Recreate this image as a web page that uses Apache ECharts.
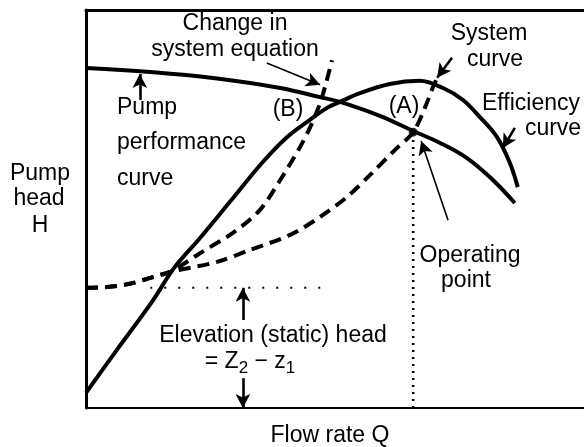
<!DOCTYPE html>
<html>
<head>
<meta charset="utf-8">
<script src="https://cdn.jsdelivr.net/npm/echarts@6/dist/echarts.min.js"></script>
<style>
  html, body { margin: 0; padding: 0; background: #fff; }
  #chart { width: 584px; height: 447px; }
</style>
</head>
<body>
<div id="chart"></div>
<script>
// Flow rate Q (0-100) against pump head H (0-100), arbitrary units.
const pumpCurve = [
  [0, 85.4], [12.9, 84.4], [25.5, 82.9], [39.0, 80.4], [47.0, 78.1],
  [51.0, 76.9], [59.0, 73.4], [65.7, 69.6], [71.1, 66.6], [76.5, 62.8],
  [81.7, 57.3], [86.1, 51.5]
];
const efficiencyCurve = [
  [0, 3.8], [6.2, 14.6], [13.1, 26.4], [17.7, 35.2], [22.9, 42.7],
  [28.9, 51.8], [35.5, 61.8], [40.4, 68.1], [44.4, 71.9], [48.4, 75.4],
  [51.0, 76.9], [55.0, 79.1], [61.0, 81.4], [67.0, 82.2],
  [71.7, 80.4], [75.7, 77.4], [79.1, 73.1], [82.5, 68.1], [85.1, 61.6],
  [86.7, 55.5]
];
const systemCurve = [
  [0, 30.2], [4.2, 30.4], [8.8, 31.2], [12.9, 32.7], [16.9, 34.2],
  [26.3, 36.7], [32.9, 39.7], [41.0, 43.5], [47.0, 48.0], [52.4, 53.0],
  [57.0, 58.5], [62.0, 64.8], [65.7, 69.3], [68.1, 75.6], [69.7, 80.7],
  [70.7, 83.4]
];
const changedSystemCurve = [
  [0, 30.2], [4.2, 30.4], [8.8, 31.2], [12.9, 32.7], [16.9, 34.2],
  [22.9, 38.9], [29.5, 44.0], [34.9, 49.7], [39.0, 57.3], [43.0, 65.6],
  [45.4, 71.6], [47.0, 76.6], [48.0, 80.7], [49.4, 87.4]
];
// Static head level and the operating point (A)
const staticHead = 30.2;
const staticHeadSpan = [12.9, 48.4];
const operatingPoint = [65.7, 69.3];

// Annotation arrows: [from, to] in data units
const arrows = [
  { from: [36.3, 86.7], to: [47.0, 81.2], width: 1.6 },   // change in system equation
  { from: [10.8, 77.4], to: [10.8, 83.9], width: 2.6 },   // pump performance curve
  { from: [73.5, 88.0], to: [70.5, 83.0], width: 2.6 },   // system curve
  { from: [86.1, 70.4], to: [83.7, 65.3], width: 2.6 },   // efficiency curve
  { from: [72.7, 47.2], to: [67.3, 67.1], width: 1.6 },   // operating point
  { from: [31.5, 22.1], to: [31.5, 30.2], width: 2.6 },   // static head (up)
  { from: [31.5, 7.5],  to: [31.5, 0],    width: 2.6 }    // static head (down)
];

const FONT = '23px "Liberation Sans", Arial, sans-serif';
const labels = [
  { text: 'Change in', x: 235, y: 24 },
  { text: 'system equation', x: 235, y: 50 },
  { text: 'System', x: 489, y: 34 },
  { text: 'curve', x: 495, y: 60 },
  { text: 'Efficiency', x: 531, y: 104 },
  { text: 'curve', x: 553, y: 129 },
  { text: '(B)', x: 288, y: 110 },
  { text: '(A)', x: 404, y: 107 },
  { text: 'Pump', x: 40, y: 174 },
  { text: 'head', x: 39, y: 199 },
  { text: 'H', x: 40, y: 226 },
  { text: 'Pump', x: 117, y: 108, align: 'left' },
  { text: 'performance', x: 117, y: 143, align: 'left' },
  { text: 'curve', x: 117, y: 179, align: 'left' },
  { text: 'Operating', x: 470, y: 256 },
  { text: 'point', x: 466, y: 281 },
  { text: 'Elevation (static) head', x: 273, y: 336 },
  { text: 'Flow rate Q', x: 330, y: 436 }
];

const chart = echarts.init(document.getElementById('chart'), null, { renderer: 'canvas' });

const curveStyle = { color: '#000', width: 4 };
const dashStyle = { color: '#000', width: 4, type: [12, 7] };

const option = {
  animation: false,
  backgroundColor: '#fff',
  grid: { left: 86, right: 0, top: 10, bottom: 39, containLabel: false },
  xAxis: [
    {
      type: 'value', min: 0, max: 100, position: 'bottom',
      axisLine: { show: true, lineStyle: { color: '#000', width: 2 } },
      axisTick: { show: false }, axisLabel: { show: false }, splitLine: { show: false }
    },
    {
      type: 'value', min: 0, max: 100, position: 'top',
      axisLine: { show: true, lineStyle: { color: '#000', width: 3 } },
      axisTick: { show: false }, axisLabel: { show: false }, splitLine: { show: false }
    }
  ],
  yAxis: {
    type: 'value', min: 0, max: 100,
    axisLine: { show: true, lineStyle: { color: '#000', width: 3 } },
    axisTick: { show: false }, axisLabel: { show: false }, splitLine: { show: false }
  },
  series: [
    {
      name: 'Static head', type: 'line', symbol: 'none', silent: true,
      data: staticHeadSpan.map(q => [q, staticHead]),
      lineStyle: { color: '#000', width: 2, type: [2, 12] }
    },
    {
      name: 'Operating flow', type: 'line', symbol: 'none', silent: true,
      data: [[operatingPoint[0], 0], operatingPoint],
      lineStyle: { color: '#000', width: 2.5, type: [2, 5] }
    },
    {
      name: 'Pump performance', type: 'line', smooth: 0.4, symbol: 'none',
      data: pumpCurve, lineStyle: curveStyle
    },
    {
      name: 'Efficiency', type: 'line', smooth: 0.35, symbol: 'none',
      data: efficiencyCurve, lineStyle: curveStyle
    },
    {
      name: 'System', type: 'line', smooth: 0.3, symbol: 'none',
      data: systemCurve, lineStyle: dashStyle
    },
    {
      name: 'Changed system', type: 'line', smooth: 0.3, symbol: 'none',
      data: changedSystemCurve, lineStyle: dashStyle
    },
    {
      name: 'Operating point', type: 'scatter', symbolSize: 9,
      itemStyle: { color: '#000' }, data: [operatingPoint]
    },
    {
      name: 'Annotations', type: 'line', data: [], silent: true,
      markLine: {
        silent: true,
        symbol: ['none', 'arrow'],
        symbolSize: [11, 14],
        label: { show: false },
        emphasis: { disabled: true },
        data: arrows.map(a => [
          { coord: a.from, lineStyle: { color: '#000', width: a.width, type: 'solid' } },
          { coord: a.to }
        ])
      }
    }
  ],
  graphic: labels.map(l => ({
    type: 'text', x: l.x, y: l.y, silent: true,
    style: {
      text: l.text, font: FONT, fill: '#000',
      align: l.align || 'center', verticalAlign: 'middle'
    }
  })).concat([{
    type: 'text', x: 250, y: 362, silent: true,
    style: {
      text: '= Z{sub|2} − z{sub|1}',
      font: FONT, fill: '#000', align: 'center', verticalAlign: 'middle',
      rich: {
        sub: { font: '17px "Liberation Sans", Arial, sans-serif', fill: '#000', padding: [12, 0, 0, 0] }
      }
    }
  }])
};

chart.setOption(option);
</script>
</body>
</html>
